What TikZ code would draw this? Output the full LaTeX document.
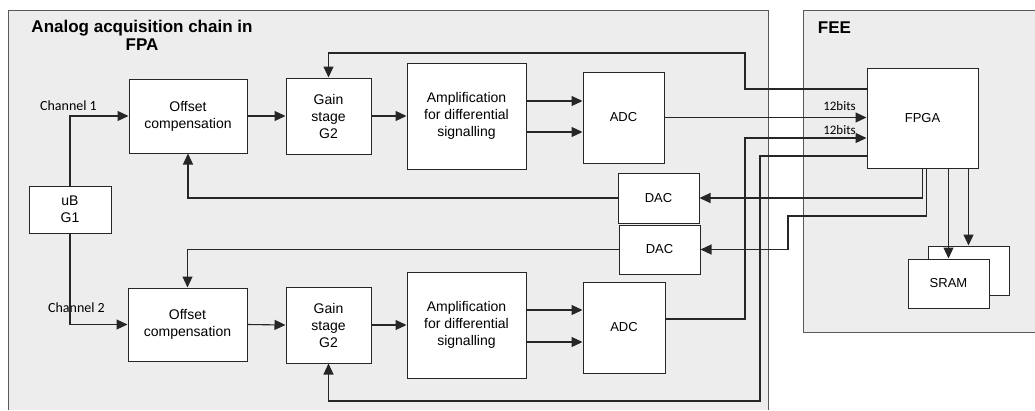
\documentclass[tikz,border=0pt]{standalone}
\usepackage{fontspec}
\setmainfont{Liberation Sans}
\newfontfamily\calib{Carlito}
\usetikzlibrary{arrows.meta,calc}
\tikzset{
  panel/.style={fill=gray!14},
  panelline/.style={draw=black!65, line width=1pt},
  blk/.style={draw=black!85, fill=white, line width=1pt, align=center, inner sep=0pt,
    font=\fontsize{14}{17}\selectfont},
  sblk/.style={blk, font=\fontsize{13}{16}\selectfont},
  conn/.style={draw=black!85, line width=1.1pt},
  arr/.style={conn, -{Triangle[length=11pt,width=10pt]}},
  lbl/.style={font=\calib\fontsize{14}{16}\selectfont, inner sep=0pt},
  blbl/.style={font=\calib\fontsize{13}{15}\selectfont, inner sep=0pt},
  ttl/.style={font=\bfseries\fontsize{17}{18}\selectfont, align=center, inner sep=0pt}
}
\begin{document}
\begin{tikzpicture}[x=1pt,y=-1pt]
\useasboundingbox (0,0) rectangle (1035,410);
\fill[white] (0,0) rectangle (1035,410);
% panels
\fill[panel] (8,10) rectangle (768,410);
\draw[panelline] (8,410) -- (8,10) -- (768,10) -- (768,410);
\fill[panel] (803,10) rectangle (1035,332);
\draw[panelline] (1035,10) -- (803,10) -- (803,332) -- (1035,332);
\node[ttl] (title) at (142,35) {Analog acquisition chain in\\FPA};
\node[ttl] (fee) at (834.5,28) {FEE};
% blocks
\node[blk, minimum width=82pt, minimum height=47pt] (ub) at (70,209.5) {uB\\G1};
\node[blk, minimum width=118pt, minimum height=74pt] (off1) at (188,116) {Offset\\compensation};
\node[blk, minimum width=85pt, minimum height=76pt] (gain1) at (328.5,116) {Gain\\stage\\G2};
\node[blk, minimum width=119pt, minimum height=106pt] (amp1) at (466.5,116) {Amplification\\for differential\\signalling};
\node[sblk, minimum width=81pt, minimum height=91pt] (adc1) at (623.5,117.5) {ADC};
\node[sblk, minimum width=111pt, minimum height=100pt] (fpga) at (922.5,118) {FPGA};
\node[sblk, minimum width=81pt, minimum height=50pt] (dac1) at (658.5,198) {DAC};
\node[sblk, minimum width=81pt, minimum height=49pt] (dac2) at (659.5,249.5) {DAC};
\node[blk, minimum width=119pt, minimum height=73pt] (off2) at (187.5,324.5) {Offset\\compensation};
\node[blk, minimum width=85pt, minimum height=76pt] (gain2) at (328.5,325) {Gain\\stage\\G2};
\node[blk, minimum width=119pt, minimum height=106pt] (amp2) at (466.5,325) {Amplification\\for differential\\signalling};
\node[sblk, minimum width=82pt, minimum height=91pt] (adc2) at (624,327.5) {ADC};
\node[sblk, minimum width=81pt, minimum height=49pt] (sramb) at (968.5,270.5) {};
\node[sblk, minimum width=81pt, minimum height=49pt] (sramf) at (948.5,283.5) {SRAM};
% labels
\node[lbl] (ch1) at (68.5,106) {Channel 1};
\node[lbl] (ch2) at (76.5,308) {Channel 2};
\node[blbl] (b1) at (839.5,106) {12bits};
\node[blbl] (b2) at (839.5,130) {12bits};
% connectors channel 1
\draw[arr] (ub.north) |- (off1.west);
\draw[arr] (off1.east) -- (gain1.west);
\draw[arr] (gain1.east) -- (amp1.west);
\draw[arr] (amp1.east |- 0,101) -- (adc1.west |- 0,101);
\draw[arr] (amp1.east |- 0,132) -- (adc1.west |- 0,132);
\draw[arr] (adc1.east) -- (fpga.west |- adc1.east);
% channel 2
\draw[arr] (ub.south) |- (off2.west);
\draw[arr] (off2.east) -- (gain2.west);
\draw[arr] (gain2.east) -- (amp2.west);
\draw[arr] (amp2.east |- 0,310) -- (adc2.west |- 0,310);
\draw[arr] (amp2.east |- 0,342) -- (adc2.west |- 0,342);
\draw[arr] (adc2.east |- 0,319) -| (745,138) -- (fpga.west |- 0,138);
% gain feedbacks
\draw[arr] (fpga.west |- 0,89) -| (745,53) -| (gain1.north);
\draw[arr] (fpga.west |- 0,156) -| (760,401) -| (gain2.south);
% DACs
\draw[arr] (fpga.south) |- (dac1.east);
\draw[arr] ($(fpga.south)+(4,0)$) |- (788,216) |- (dac2.east);
\draw[arr] (dac1.west) -| (off1.south);
\draw[arr] (dac2.west) -| (off2.north);
% SRAM
\draw[arr] (fpga.south -| sramf.north) -- (sramf.north);
\draw[arr] (fpga.south -| sramb.north) -- (sramb.north);
\end{tikzpicture}
\end{document}
